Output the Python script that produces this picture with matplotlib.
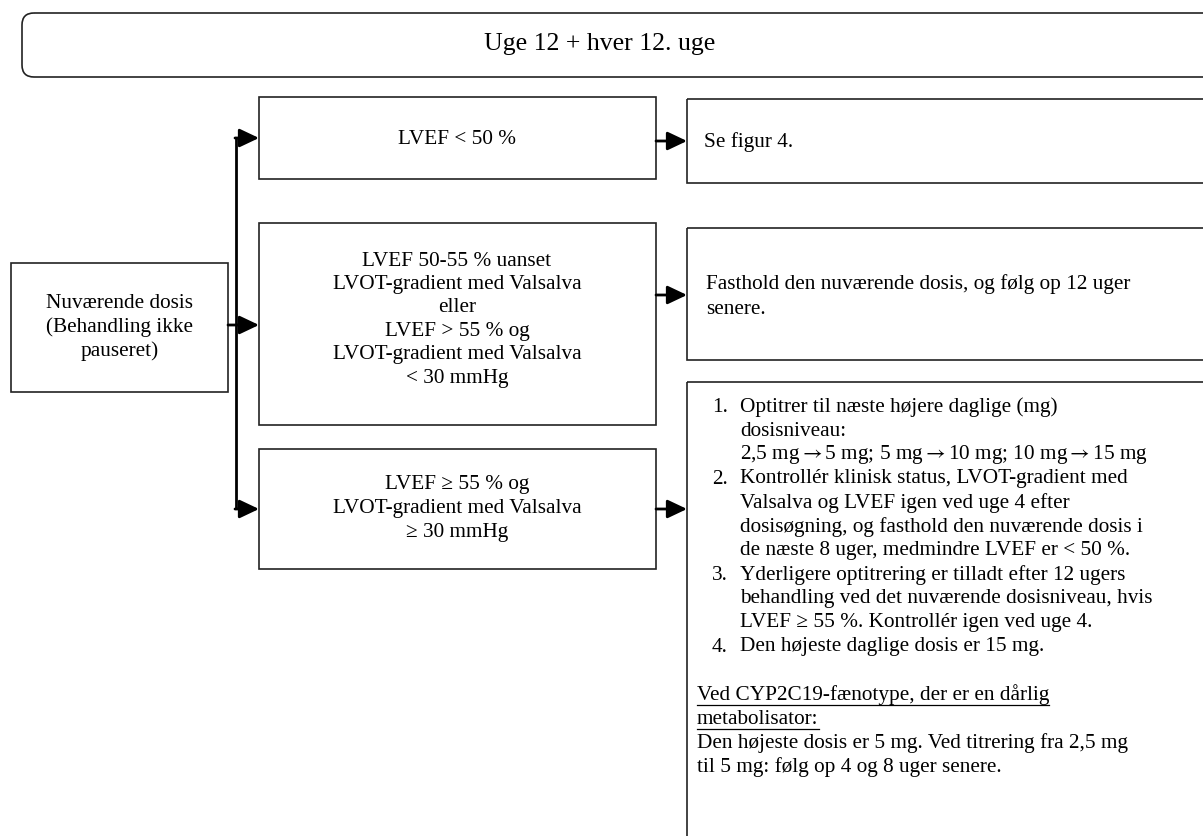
import matplotlib
matplotlib.use("Agg")
import matplotlib.pyplot as plt
from matplotlib.patches import Rectangle, FancyBboxPatch

plt.rcParams['font.family'] = ['Liberation Serif', 'DejaVu Serif']
plt.rcParams['mathtext.fontset'] = 'stix'

# texts of the flowchart
title = "Uge 12 + hver 12. uge"
start_lines = ["Nuværende dosis", "(Behandling ikke", "pauseret)"]
cond_top = ["LVEF < 50 %"]
cond_mid = ["LVEF 50-55 % uanset", "LVOT-gradient med Valsalva", "eller",
            "LVEF > 55 % og", "LVOT-gradient med Valsalva", "< 30 mmHg"]
cond_bot = ["LVEF ≥ 55 % og", "LVOT-gradient med Valsalva", "≥ 30 mmHg"]
act_top = ["Se figur 4."]
act_mid = ["Fasthold den nuværende dosis, og følg op 12 uger", "senere."]
steps = [
    ["Optitrer til næste højere daglige (mg)", "dosisniveau:",
     r"2,5 mg$\rightarrow$5 mg; 5 mg$\rightarrow$10 mg; 10 mg$\rightarrow$15 mg"],
    ["Kontrollér klinisk status, LVOT-gradient med",
     "Valsalva og LVEF igen ved uge 4 efter",
     "dosisøgning, og fasthold den nuværende dosis i",
     "de næste 8 uger, medmindre LVEF er < 50 %."],
    ["Yderligere optitrering er tilladt efter 12 ugers",
     "behandling ved det nuværende dosisniveau, hvis",
     "LVEF ≥ 55 %. Kontrollér igen ved uge 4."],
    ["Den højeste daglige dosis er 15 mg."],
]
note_head = ["Ved CYP2C19-fænotype, der er en dårlig", "metabolisator:"]
note_body = ["Den højeste dosis er 5 mg. Ved titrering fra 2,5 mg",
             "til 5 mg: følg op 4 og 8 uger senere."]

W, H = 1203, 836
fig = plt.figure(figsize=(W / 100, H / 100), dpi=100)
ax = fig.add_axes([0, 0, 1, 1])
ax.set_xlim(0, W)
ax.set_ylim(H, 0)
ax.axis('off')

FS = 15.3
EC = '#222222'
LH = 24


def box(x0, y0, x1, y1):
    ax.add_patch(Rectangle((x0, y0), x1 - x0, y1 - y0, fill=False,
                           ec=EC, lw=1.2, clip_on=False))


def lines_at(lines, x, y0, step, ha='center'):
    for i, s in enumerate(lines):
        ax.text(x, y0 + i * step, s, ha=ha, va='center', fontsize=FS)


def arrow(x0, y, x1):
    ax.annotate("", xy=(x1, y), xytext=(x0, y),
                arrowprops=dict(arrowstyle='-|>,head_length=0.95,head_width=0.45',
                                lw=2, color='black', shrinkA=0, shrinkB=0,
                                mutation_scale=12.5))


# header
ax.add_patch(FancyBboxPatch((22, 13), 1200, 64,
                            boxstyle="round,pad=0,rounding_size=12",
                            fill=False, ec=EC, lw=1.2, clip_on=False))
ax.text(600, 44, title, ha='center', va='center', fontsize=18.5)

# start box
box(11, 263, 228, 392)
lines_at(start_lines, 120, 303, LH)

# condition boxes
box(259, 97, 656, 179)
lines_at(cond_top, 457, 139, LH)
box(259, 223, 656, 425)
lines_at(cond_mid, 457, 261, 23.5)
box(259, 449, 656, 569)
lines_at(cond_bot, 457, 485, 23.5)

# action boxes
box(687, 99, 1220, 183)
lines_at(act_top, 704, 142, LH, ha='left')
box(687, 228, 1220, 360)
lines_at(act_mid, 706, 284, 25, ha='left')
box(687, 382, 1220, 900)

y = 407
for n, step in enumerate(steps, 1):
    ax.text(712, y, f"{n}.", ha='left', va='center', fontsize=FS)
    lines_at(step, 740, y, LH, ha='left')
    y += LH * len(step)
y += LH

renderer = fig.canvas.get_renderer()
inv = ax.transData.inverted()
for s in note_head:
    t = ax.text(697, y, s, ha='left', va='center', fontsize=FS)
    bb = t.get_window_extent(renderer)
    (xa, _), (xb, _) = inv.transform([(bb.x0, bb.y0), (bb.x1, bb.y0)])
    ax.plot([xa, xb], [y + 10, y + 10], color='black', lw=0.9)
    y += LH
lines_at(note_body, 697, y, LH, ha='left')

# connectors
ax.plot([236, 236], [138, 509], color='black', lw=2, solid_capstyle='butt')
arrow(228, 325, 259)
arrow(235, 138, 259)
arrow(235, 509, 259)
arrow(656, 141, 687)
arrow(656, 295, 687)
arrow(656, 509, 687)

fig.savefig("out.png", dpi=100)
